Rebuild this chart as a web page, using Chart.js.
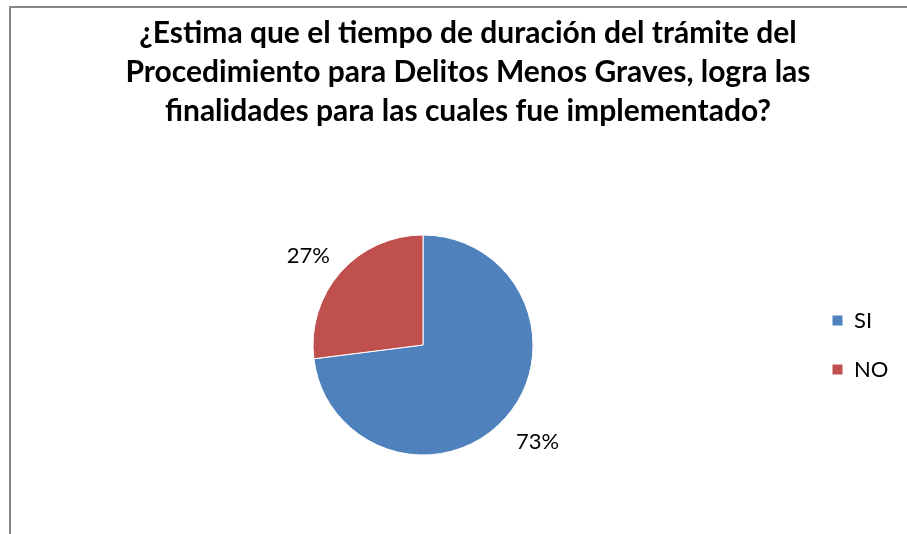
<!DOCTYPE html>
<html lang="es">
<head>
<meta charset="utf-8">
<title>Duración del trámite</title>
<script src="https://cdn.jsdelivr.net/npm/chart.js@4.4.1/dist/chart.umd.min.js"></script>
<style>
  html, body { margin: 0; padding: 0; background: #fff; overflow: hidden; }
  #frame { position: absolute; left: 9px; top: 6px; width: 900px; height: 530px;
           border-left: 2px solid #878787; border-top: 2px solid #878787; }
  #wrap { position: absolute; left: 0; top: 0; width: 907px; height: 534px; }
</style>
</head>
<body>
<div id="frame"></div>
<div id="wrap"><canvas id="pieChart"></canvas></div>
<script>
// Encuesta - tiempo de duración del trámite
const titleLines = [
  '¿Estima que el tiempo de duración del trámite del',
  'Procedimiento para Delitos Menos Graves, logra las',
  'finalidades para las cuales fue implementado?'
];
const categories = ['SI', 'NO'];
const percentages = [73, 27];
const sliceColors = ['#4F81BD', '#C0504D'];

// etiquetas de porcentaje fuera de la torta
const outsideLabels = {
  id: 'outsideLabels',
  afterDatasetsDraw(chart) {
    const ctx = chart.ctx;
    const meta = chart.getDatasetMeta(0);
    ctx.save();
    ctx.font = '22px Lato';
    ctx.fillStyle = '#000';
    ctx.textAlign = 'center';
    ctx.textBaseline = 'middle';
    meta.data.forEach((arc, i) => {
      const p = arc.getProps(['x', 'y', 'startAngle', 'endAngle', 'outerRadius'], true);
      const mid = (p.startAngle + p.endAngle) / 2;
      const cos = Math.cos(mid), sin = Math.sin(mid);
      const text = percentages[i] + '%';
      const w = ctx.measureText(text).width, h = 22;
      const d = p.outerRadius + 14;
      const cx = p.x + cos * d + Math.sign(cos) * w / 2;
      const cy = p.y + sin * d + Math.sign(sin) * h / 2 + 4;
      ctx.fillText(text, cx, cy);
    });
    ctx.restore();
  }
};

document.addEventListener('DOMContentLoaded', () => {
  new Chart(document.getElementById('pieChart'), {
    type: 'pie',
    data: {
      labels: categories,
      datasets: [{
        data: percentages,
        backgroundColor: sliceColors,
        borderColor: '#ffffff',
        borderWidth: 1,
        hoverOffset: 0
      }]
    },
    options: {
      responsive: true,
      maintainAspectRatio: false,
      animation: false,
      events: [],
      layout: { padding: { left: 41, right: 12, top: 0, bottom: 78.5 } },
      plugins: {
        title: {
          display: true,
          text: titleLines,
          color: '#000',
          font: { family: 'Lato', size: 30, weight: 'bold', lineHeight: '39px' },
          padding: { top: 13.5, bottom: 104 }
        },
        legend: {
          position: 'right',
          fullSize: false,
          maxWidth: 90,
          labels: {
            boxWidth: 11,
            boxHeight: 11,
            padding: 27,
            color: '#000',
            font: { family: 'Lato', size: 22 }
          }
        },
        tooltip: { enabled: false }
      }
    },
    plugins: [outsideLabels]
  });
});
</script>
</body>
</html>
